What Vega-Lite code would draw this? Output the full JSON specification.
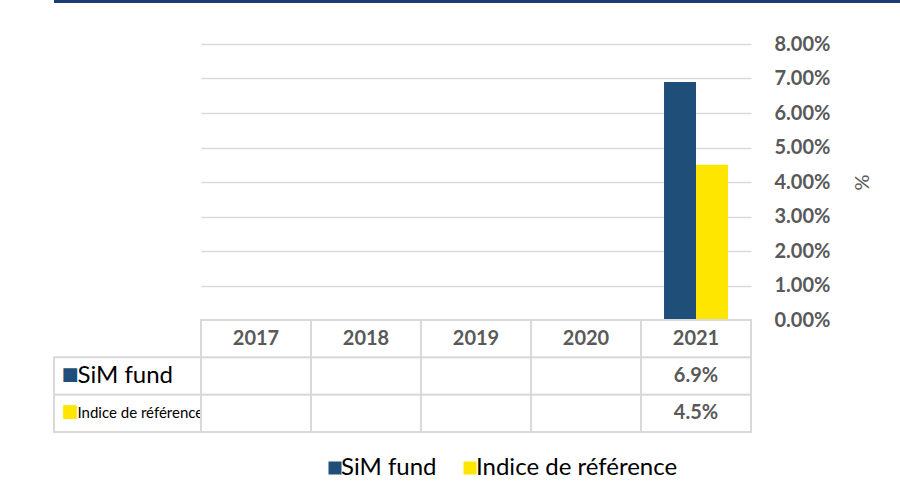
{
  "$schema": "https://vega.github.io/schema/vega-lite/v6.json",
  "padding": {"left": 53, "top": 0, "right": 0, "bottom": 0},
  "background": "white",
  "config": {"view": {"stroke": null}, "font": "Lato"},
  "datasets": {
    "returns": [
      {"year": "2017", "series": "SiM fund", "value": null},
      {"year": "2017", "series": "Indice de référence", "value": null},
      {"year": "2018", "series": "SiM fund", "value": null},
      {"year": "2018", "series": "Indice de référence", "value": null},
      {"year": "2019", "series": "SiM fund", "value": null},
      {"year": "2019", "series": "Indice de référence", "value": null},
      {"year": "2020", "series": "SiM fund", "value": null},
      {"year": "2020", "series": "Indice de référence", "value": null},
      {"year": "2021", "series": "SiM fund", "value": 0.069},
      {"year": "2021", "series": "Indice de référence", "value": 0.045}
    ],
    "one": [{"k": 1}]
  },
  "spacing": 41,
  "bounds": "flush",
  "vconcat": [
    {
      "width": 847,
      "height": 3,
      "data": {"name": "one"},
      "mark": {"type": "rect", "color": "#1F3B73"},
      "encoding": {}
    },
    {
      "columns": 2,
      "spacing": 0,
      "bounds": "flush",
      "concat": [
        {
          "width": 147,
          "height": 276,
          "data": {"name": "one"},
          "mark": {"type": "text", "text": " "},
          "encoding": {}
        },
        {
          "width": 550,
          "height": 276,
          "data": {"name": "returns"},
          "mark": {"type": "bar"},
          "encoding": {
            "x": {
              "field": "year",
              "type": "nominal",
              "scale": {"domain": ["2017", "2018", "2019", "2020", "2021"], "paddingInner": 0, "paddingOuter": 0},
              "axis": null
            },
            "xOffset": {
              "field": "series",
              "type": "nominal",
              "scale": {"domain": ["SiM fund", "Indice de référence"], "paddingInner": 0, "paddingOuter": 0.72}
            },
            "y": {
              "field": "value",
              "type": "quantitative",
              "scale": {"domain": [0, 0.08], "nice": false},
              "axis": {
                "orient": "right",
                "values": [0, 0.01, 0.02, 0.03, 0.04, 0.05, 0.06, 0.07, 0.08],
                "format": ".2%",
                "domain": false,
                "ticks": false,
                "tickSize": 0,
                "grid": true,
                "gridColor": "#D9D9D9",
                "gridWidth": 1.5,
                "labelFont": "Lato",
                "labelFontWeight": "bold",
                "labelFontSize": 20,
                "labelColor": "#595959",
                "labelPadding": 23,
                "title": "%",
                "titleFont": "Lato",
                "titleFontWeight": "normal",
                "titleFontSize": 20,
                "titleColor": "#595959",
                "titlePadding": 21
              }
            },
            "color": {
              "field": "series",
              "type": "nominal",
              "scale": {"domain": ["SiM fund", "Indice de référence"], "range": ["#1F4E79", "#FFE600"]},
              "legend": {
                "orient": "none",
                "legendX": 269,
                "legendY": 456,
                "direction": "horizontal",
                "title": null,
                "symbolType": "square",
                "symbolSize": 169,
                "symbolStrokeWidth": 0,
                "labelFont": "Lato",
                "labelFontSize": 24,
                "labelColor": "#000000",
                "labelOffset": -6,
                "columnPadding": 21,
                "labelLimit": 400
              }
            }
          }
        },
        {
          "width": 147,
          "height": 112,
          "data": {"name": "returns"},
          "transform": [{"filter": "datum.year == '2021'"}],
          "encoding": {
            "y": {
              "field": "series",
              "type": "nominal",
              "scale": {"domain": ["year", "SiM fund", "Indice de référence"], "paddingInner": 0, "paddingOuter": 0},
              "axis": null
            }
          },
          "layer": [
            {"mark": {"type": "rect", "fill": "white", "stroke": "#D9D9D9", "strokeWidth": 2}},
            {
              "mark": {"type": "text", "text": "■", "font": "DejaVu Sans", "fontSize": 18, "align": "left", "dx": -66, "dy": -1},
              "encoding": {"color": {"field": "series", "type": "nominal"}}
            },
            {
              "transform": [{"filter": "datum.series == 'SiM fund'"}],
              "mark": {"type": "text", "fontSize": 24, "align": "left", "dx": -50, "color": "#000000"},
              "encoding": {"text": {"field": "series"}}
            },
            {
              "transform": [{"filter": "datum.series != 'SiM fund'"}],
              "mark": {"type": "text", "fontSize": 15, "align": "left", "dx": -50, "color": "#000000"},
              "encoding": {"text": {"field": "series"}}
            }
          ]
        },
        {
          "width": 550,
          "height": 112,
          "data": {"name": "returns"},
          "encoding": {
            "x": {
              "field": "year",
              "type": "nominal",
              "scale": {"domain": ["2017", "2018", "2019", "2020", "2021"], "paddingInner": 0, "paddingOuter": 0},
              "axis": null
            }
          },
          "layer": [
            {
              "mark": {"type": "rect", "fill": "white", "stroke": "#D9D9D9", "strokeWidth": 2},
              "encoding": {
                "y": {
                  "field": "series",
                  "type": "nominal",
                  "scale": {"domain": ["year", "SiM fund", "Indice de référence"], "paddingInner": 0, "paddingOuter": 0},
                  "axis": null
                }
              }
            },
            {
              "transform": [{"filter": "datum.series == 'SiM fund'"}],
              "mark": {"type": "rect", "fill": "white", "stroke": "#D9D9D9", "strokeWidth": 2},
              "encoding": {"y": {"datum": "year", "type": "nominal"}}
            },
            {
              "transform": [{"filter": "datum.series == 'SiM fund'"}],
              "mark": {"type": "text", "fontSize": 20, "fontWeight": "bold", "color": "#595959"},
              "encoding": {"y": {"datum": "year", "type": "nominal"}, "text": {"field": "year"}}
            },
            {
              "transform": [{"filter": "datum.value != null"}],
              "mark": {"type": "text", "fontSize": 20, "fontWeight": "bold", "color": "#595959"},
              "encoding": {
                "y": {"field": "series", "type": "nominal"},
                "text": {"field": "value", "type": "quantitative", "format": ".1%"}
              }
            }
          ]
        }
      ]
    }
  ]
}
